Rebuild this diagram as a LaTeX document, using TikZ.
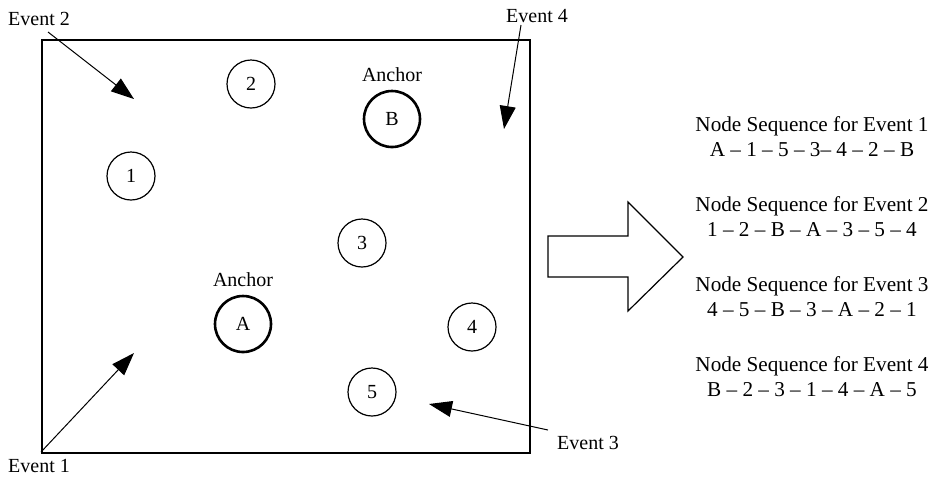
\documentclass[tikz,border=0pt]{standalone}
\usepackage{fontspec}
\setmainfont{Liberation Serif}
\usetikzlibrary{arrows.meta}
\begin{document}
\begin{tikzpicture}[x=0.5pt,y=-0.5pt,
  every node/.style={font=\fontsize{10}{12}\selectfont},
  plain/.style={circle,draw,line width=0.6pt,minimum size=24pt,inner sep=0pt},
  anchornode/.style={circle,draw,line width=1.3pt,minimum size=28pt,inner sep=0pt},
  evarrow/.style={line width=0.5pt,-{Triangle[length=11.5pt,width=8pt]}},
  seq/.style={align=center,font=\fontsize{10.6}{12.5}\selectfont}]
\useasboundingbox (0,0) rectangle (936,479);
% frame
\node[draw,line width=0.8pt,minimum width=244pt,minimum height=206.5pt,inner sep=0pt,anchor=north west] (frame) at (41,39) {};
% nodes
\node[plain] (n1) at (131,176) {1};
\node[plain] (n2) at (251,84) {2};
\node[anchornode] (nB) at (392,119) {B};
\node[anchor=south] (labB) at (392,89) {Anchor};
\node[plain] (n3) at (362,243) {3};
\node[anchornode] (nA) at (243,324) {A};
\node[anchor=south] (labA) at (243,294) {Anchor};
\node[plain] (n4) at (472,327) {4};
\node[plain] (n5) at (372,392) {5};
% events
\node (e1) at (39,466) {Event 1};
\node (e2) at (39,19) {Event 2};
\node (e3) at (588,443) {Event 3};
\node (e4) at (537,16) {Event 4};
\coordinate (s1) at (41,452);
\coordinate (t1) at (134,353);
\coordinate (s2) at (48,32);
\coordinate (t2) at (134,99);
\coordinate (s3) at (548,430);
\coordinate (t3) at (429,404);
\coordinate (s4) at (521,25);
\coordinate (t4) at (504,129);
\draw[evarrow] (s1) -- (t1);
\draw[evarrow] (s2) -- (t2);
\draw[evarrow] (s3) -- (t3);
\draw[evarrow] (s4) -- (t4);
% big arrow
\draw[line width=0.6pt] (548,236) coordinate (ba) -- (628,236) -- (628,202) -- (683,257) coordinate (btip) -- (628,311) -- (628,277) -- (548,277) -- cycle;
% sequences
\node[seq] (q1) at (812,137) {Node Sequence for Event 1\\A – 1 – 5 – 3– 4 – 2 – B};
\node[seq] (q2) at (812,217) {Node Sequence for Event 2\\1 – 2 – B – A – 3 – 5 – 4};
\node[seq] (q3) at (812,297) {Node Sequence for Event 3\\4 – 5 – B – 3 – A – 2 – 1};
\node[seq] (q4) at (812,377) {Node Sequence for Event 4\\B – 2 – 3 – 1 – 4 – A – 5};
\end{tikzpicture}
\end{document}
